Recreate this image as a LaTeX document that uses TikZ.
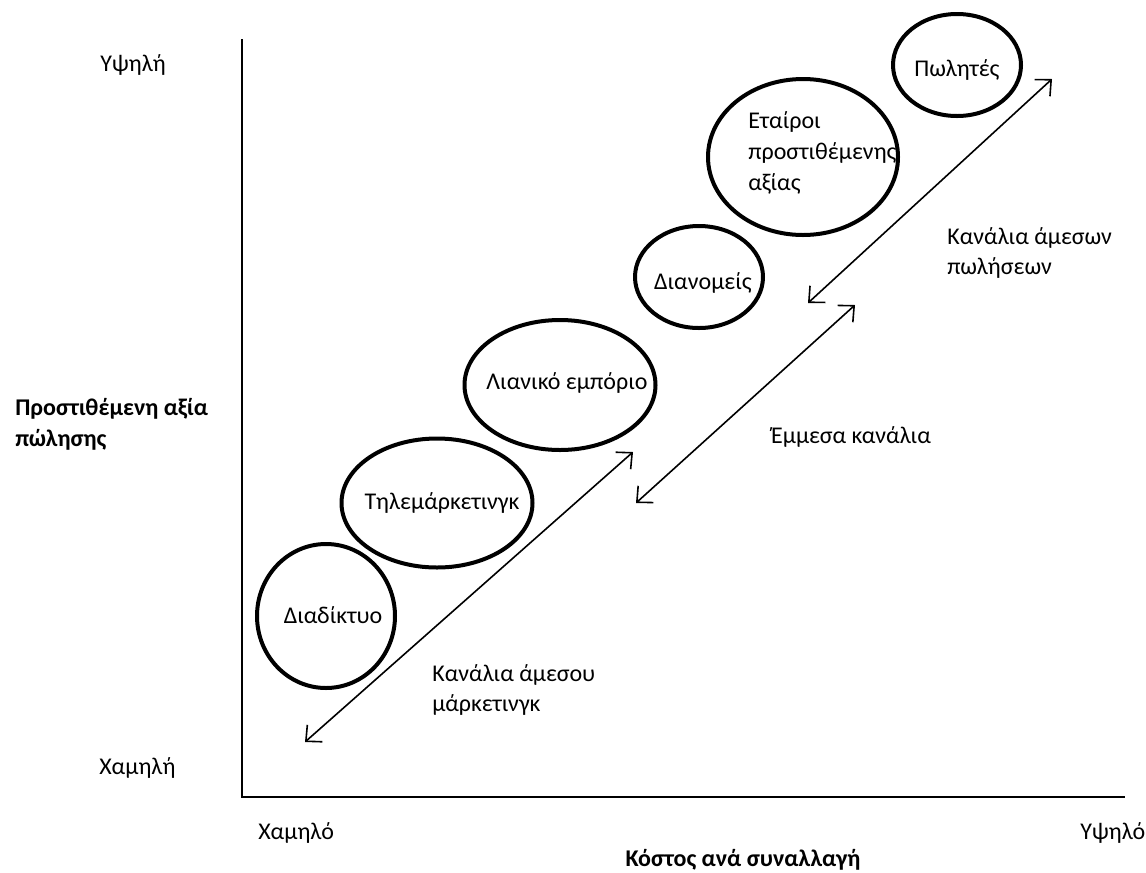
\documentclass[tikz,border=0pt]{standalone}
\usepackage{fontspec}
\setmainfont{Carlito}
\usetikzlibrary{shapes.geometric,arrows.meta}
\tikzset{
  px/.style={x=0.75pt,y=-0.75pt},
  bubble/.style={draw=black,line width=3pt,ellipse,inner sep=0pt},
  txt/.style={inner sep=0pt,font=\fontsize{18}{23}\selectfont},
  boldtxt/.style={inner sep=0pt,font=\fontsize{18}{23}\selectfont\bfseries},
  axisline/.style={line width=1.5pt},
  chan/.style={line width=1.2pt,{Straight Barb[length=9pt,width=17pt]}-{Straight Barb[length=9pt,width=17pt]}}
}
\begin{document}
\begin{tikzpicture}[px]
\useasboundingbox (0,0) rectangle (1146,872);
% axes
\coordinate (ytop) at (242,39);
\coordinate (orig) at (242,797);
\coordinate (xend) at (1125,797);
\draw[axisline] (ytop) -- (orig) -- (xend);
% axis labels
\node[txt,anchor=west] (yhigh) at (100,65) {Υψηλή};
\node[txt,anchor=west] (ylow) at (99,768) {Χαμηλή};
\node[txt,anchor=west] (xlow) at (258,833) {Χαμηλό};
\node[txt,anchor=west] (xhigh) at (1080,833) {Υψηλό};
\node[boldtxt] (xtitle) at (743,860) {Κόστος ανά συναλλαγή};
\node[boldtxt,anchor=west,align=left] (ytitle) at (15,424) {Προστιθέμενη αξία\\πώλησης};
% bubbles
\node[bubble,minimum width=103.5pt,minimum height=108pt] (e1) at (326,616) {};
\node[bubble,minimum width=143.25pt,minimum height=96.75pt] (e2) at (437,503) {};
\node[bubble,minimum width=143.25pt,minimum height=97.5pt] (e3) at (560,385) {};
\node[bubble,minimum width=96pt,minimum height=76.5pt] (e4) at (699,277) {};
\node[bubble,minimum width=142.5pt,minimum height=117pt] (e5) at (803,157) {};
\node[bubble,minimum width=96pt,minimum height=76.5pt] (e6) at (957,65) {};
% bubble texts
\node[txt] (t1) at (333,615) {Διαδίκτυο};
\node[txt] (t2) at (442,503) {Τηλεμάρκετινγκ};
\node[txt] (t3) at (567,383) {Λιανικό εμπόριο};
\node[txt] (t4) at (703,283) {Διανομείς};
\node[txt,anchor=west,align=left] (t5) at (748,153) {Εταίροι\\προστιθέμενης\\αξίας};
\node[txt] (t6) at (957,70) {Πωλητές};
% channel arrows
\coordinate (a1s) at (305,742);
\coordinate (a1e) at (633,452);
\coordinate (a2s) at (636,503);
\coordinate (a2e) at (855,305);
\coordinate (a3s) at (808,303);
\coordinate (a3e) at (1052,79);
\draw[chan] (a1s) -- (a1e);
\draw[chan] (a2s) -- (a2e);
\draw[chan] (a3s) -- (a3e);
% channel labels
\node[txt,anchor=west,align=left] (l1) at (432,690) {Κανάλια άμεσου\\μάρκετινγκ};
\node[txt] (l2) at (851,437) {Έμμεσα κανάλια};
\node[txt,anchor=west,align=left] (l3) at (947,253) {Κανάλια άμεσων\\πωλήσεων};
\end{tikzpicture}
\end{document}
